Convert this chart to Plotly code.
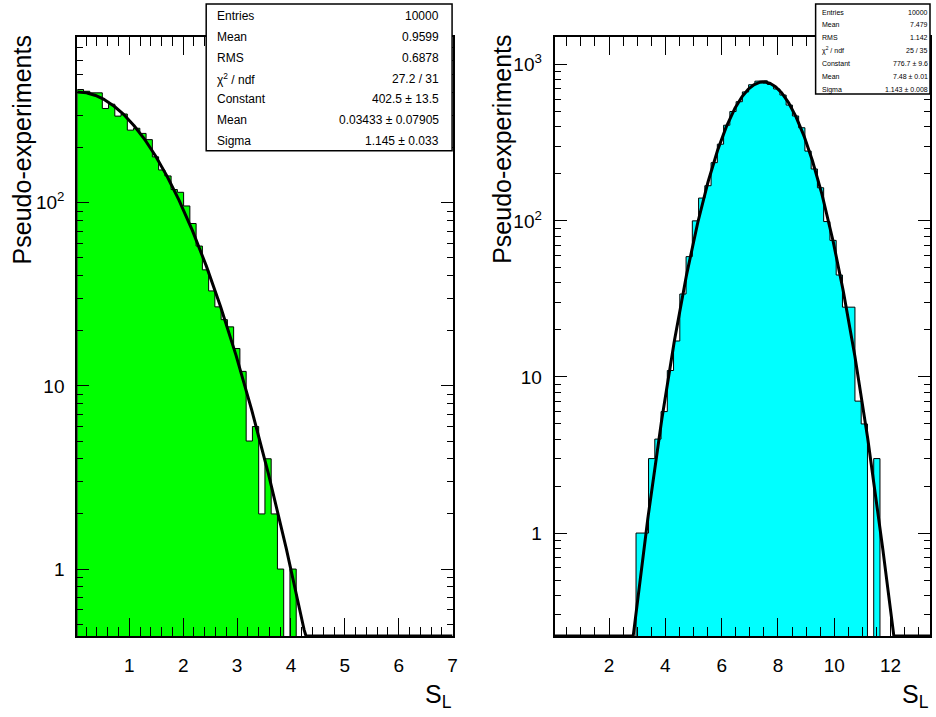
import numpy as np
import plotly.graph_objects as go

W, H = 936, 717

# ---------------- data ----------------
left_range = (0.035, 7.0)          # histogram range, 60 bins
left_counts = [415, 406, 398, 398, 327, 345, 297, 305, 249, 255,
               239, 221, 178, 151, 140, 118, 114, 96, 77, 58,
               43, 33, 27, 23, 21, 16, 12, 5, 6, 2,
               4, 2, 1, 0, 1, 0, 0, 0, 0, 0,
               0, 0, 0, 0, 0, 0, 0, 0, 0, 0,
               0, 0, 0, 0, 0, 0, 0, 0, 0, 0]
right_range = (0.07, 13.4)
right_counts = [0, 0, 0, 0, 0, 0, 0, 0, 0, 0,
                0, 0, 0, 1, 1, 3, 4, 6, 11, 17,
                34, 59, 100, 140, 168, 236, 310, 410, 502, 580,
                670, 745, 785, 790, 748, 700, 640, 552, 470, 395,
                280, 215, 163, 99, 75, 45, 28, 28, 7, 5,
                0, 3, 0, 0, 0, 0, 0, 0, 0, 0]

left_fit_const, left_fit_mean, left_fit_sigma = 402.5, 0.03433, 1.145
right_fit_const, right_fit_mean, right_fit_sigma = 776.7, 7.48, 1.143

stat_labels = ["Entries", "Mean", "RMS", "χ<sup>2</sup> / ndf", "Constant", "Mean", "Sigma"]
left_stat_values = ["10000", "0.9599", "0.6878", "27.2 / 31", "402.5 ± 13.5",
                    "0.03433 ± 0.07905", "1.145 ± 0.033"]
right_stat_values = ["10000", "7.479", "1.142", "25 / 35", "776.7 ± 9.6",
                     "7.48 ± 0.01", "1.143 ± 0.008"]

left_xticks = [1, 2, 3, 4, 5, 6, 7]
right_xticks = [2, 4, 6, 8, 10, 12]
left_yticks = [1, 10, 100]
left_yticktext = ["1", "10", "10<sup>2</sup>"]
right_yticks = [1, 10, 100, 1000]
right_yticktext = ["1", "10", "10<sup>2</sup>", "10<sup>3</sup>"]

left_ylim = (0.431, 800.0)
right_ylim = (0.219, 1500.0)

FONT = "Liberation Sans, Arial, Helvetica, sans-serif"


def step_poly(lo, hi, counts, floor):
    edges = np.linspace(lo, hi, len(counts) + 1)
    xs, ys = [edges[0]], [floor]
    for i, c in enumerate(counts):
        v = c if c > 0 else floor
        xs += [edges[i], edges[i + 1]]
        ys += [v, v]
    xs.append(edges[-1]); ys.append(floor)
    return xs, ys


def gauss_curve(lo, hi, c, m, s, ymin):
    x = np.linspace(lo, hi, 800)
    y = c * np.exp(-0.5 * ((x - m) / s) ** 2)
    return x, np.maximum(y, ymin)


def minor_log(lo, hi):
    vals = []
    for d in range(-2, 5):
        for k in range(2, 10):
            v = k * 10.0 ** d
            if lo < v < hi:
                vals.append(v)
    return vals


fig = go.Figure()

lx, ly = step_poly(*left_range, left_counts, 1e-3)
fig.add_trace(go.Scatter(x=lx, y=ly, mode="lines", fill="toself", fillcolor="#00ff00",
                         line=dict(color="black", width=1), xaxis="x", yaxis="y",
                         hoverinfo="skip", showlegend=False))
fx, fy = gauss_curve(*left_range, left_fit_const, left_fit_mean, left_fit_sigma, left_ylim[0])
fig.add_trace(go.Scatter(x=fx, y=fy, mode="lines", line=dict(color="black", width=3),
                         xaxis="x", yaxis="y", showlegend=False))

rx, ry = step_poly(*right_range, right_counts, 1e-3)
fig.add_trace(go.Scatter(x=rx, y=ry, mode="lines", fill="toself", fillcolor="#00ffff",
                         line=dict(color="black", width=1), xaxis="x2", yaxis="y2",
                         hoverinfo="skip", showlegend=False))
gx, gy = gauss_curve(*right_range, right_fit_const, right_fit_mean, right_fit_sigma, right_ylim[0])
fig.add_trace(go.Scatter(x=gx, y=gy, mode="lines", line=dict(color="black", width=3),
                         xaxis="x2", yaxis="y2", showlegend=False))

# frame geometry (pixels)
L_X0, L_X1 = 77.7, 455.0
R_X0, R_X1 = 557.7, 935.0
Y_TOP, Y_BOT = 37.3, 636.0


def px(x):
    return x / W


def py(y):
    return 1 - y / H


common_axis = dict(showline=True, linewidth=2, linecolor="black", mirror="allticks",
                   ticks="inside", tickcolor="black", tickwidth=1, showgrid=False,
                   zeroline=False, tickfont=dict(family=FONT, size=19, color="black"))

xaxis_common = dict(common_axis, ticklen=18, ticklabelstandoff=11)
yaxis_common = dict(common_axis, ticklen=12, ticklabelstandoff=7, type="log")

fig.update_layout(
    width=W, height=H, margin=dict(l=0, r=0, t=0, b=0),
    paper_bgcolor="white", plot_bgcolor="white",
    font=dict(family=FONT, color="black"),
    xaxis=dict(xaxis_common, domain=[px(L_X0), px(L_X1)], range=list(left_range),
               anchor="y", tickmode="array", tickvals=left_xticks,
               minor=dict(tickmode="array", tickvals=[round(0.2 * k, 2) for k in range(1, 35) if k % 5],
                          ticks="inside", ticklen=9, tickcolor="black", tickwidth=1)),
    yaxis=dict(yaxis_common, domain=[py(Y_BOT), py(Y_TOP)],
               range=[np.log10(left_ylim[0]), np.log10(left_ylim[1])], anchor="x",
               tickmode="array", tickvals=left_yticks, ticktext=left_yticktext,
               minor=dict(tickmode="array", tickvals=minor_log(*left_ylim),
                          ticks="inside", ticklen=6, tickcolor="black", tickwidth=1)),
    xaxis2=dict(xaxis_common, domain=[px(R_X0), px(R_X1)], range=list(right_range),
                anchor="y2", tickmode="array", tickvals=right_xticks,
                minor=dict(tickmode="array", tickvals=[0.5 * k for k in range(1, 27) if k % 4],
                           ticks="inside", ticklen=9, tickcolor="black", tickwidth=1)),
    yaxis2=dict(yaxis_common, domain=[py(Y_BOT), py(Y_TOP)],
                range=[np.log10(right_ylim[0]), np.log10(right_ylim[1])], anchor="x2",
                tickmode="array", tickvals=right_yticks, ticktext=right_yticktext,
                minor=dict(tickmode="array", tickvals=minor_log(*right_ylim),
                           ticks="inside", ticklen=6, tickcolor="black", tickwidth=1)),
)

shapes = []
annotations = []


def stat_box(x0, x1, y0, y1, row0, rowstep, lab_x, val_x, values, fsize):
    shapes.append(dict(type="rect", xref="paper", yref="paper", x0=px(x0), x1=px(x1),
                       y0=py(y1), y1=py(y0), fillcolor="white",
                       line=dict(color="black", width=1.5), layer="above"))
    for i, (lab, val) in enumerate(zip(stat_labels, values)):
        yy = py(row0 + i * rowstep)
        annotations.append(dict(xref="paper", yref="paper", x=px(lab_x), y=yy, text=lab,
                                xanchor="left", yanchor="middle", showarrow=False,
                                font=dict(family=FONT, size=fsize, color="black")))
        annotations.append(dict(xref="paper", yref="paper", x=px(val_x), y=yy, text=val,
                                xanchor="right", yanchor="middle", showarrow=False,
                                font=dict(family=FONT, size=fsize, color="black")))


stat_box(207.3, 454.5, 4, 150.7, 16.5, 20.7, 216.5, 443.5, left_stat_values, 12)
stat_box(820, 935, 4, 94, 12.0, 12.93, 824.5, 934.5, right_stat_values, 7)

# axis titles
for cx in (23, 505):
    annotations.append(dict(xref="paper", yref="paper", x=px(cx), y=py(33), text="Pseudo-experiments",
                            textangle=-90, xanchor="center", yanchor="top", showarrow=False,
                            font=dict(family=FONT, size=25, color="black")))
for rx_ in (456, 936):
    annotations.append(dict(xref="paper", yref="paper", x=px(rx_), y=py(696), text="S<sub>L</sub>",
                            xanchor="right", yanchor="middle", showarrow=False,
                            font=dict(family=FONT, size=25, color="black")))

fig.update_layout(shapes=shapes, annotations=annotations)
fig.write_html("out.html")
